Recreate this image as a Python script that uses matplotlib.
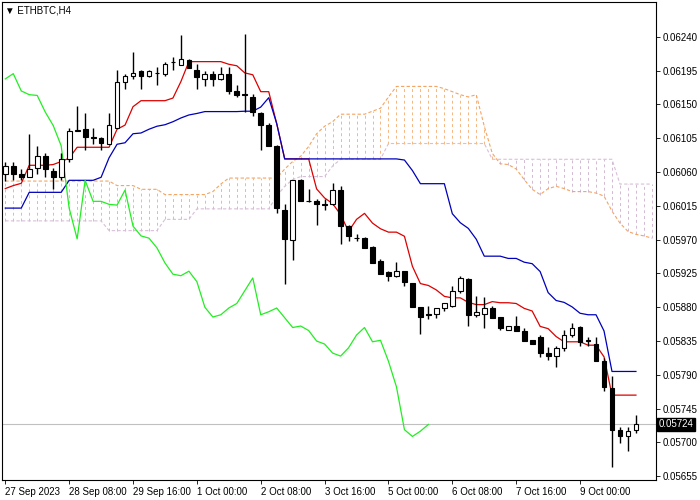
import numpy as np
import pandas as pd
from matplotlib import pyplot as plt

plt.rcParams['font.family'] = ['Liberation Sans', 'DejaVu Sans']

# ETHBTC H4 candles (open, high, low, close)
opens = [.06058, .06068, .06058, .06054, .06065, .06081, .06062, .06053, .06077, .06115,
         .06117, .06107, .06105, .06098, .06119, .06180, .06188, .06194, .06188, .06192,
         .06191, .06207, .06203, .06209, .06196, .06184, .06191, .06184, .06191, .06168,
         .06164, .06160, .06138, .06123, .06095, .06010, .05970, .06049, .06021, .06021,
         .06017, .06017, .06036, .05988, .05972, .05972, .05960, .05942, .05927, .05922,
         .05928, .05912, .05880, .05870, .05871, .05879, .05882, .05902, .05918, .05870,
         .05871, .05879, .05867, .05850, .05855, .05849, .05837, .05841, .05819, .05815,
         .05826, .05843, .05854, .05835, .05831, .05808, .05773, .05716, .05708, .05717]
highs = [.06074, .06074, .06064, .06111, .06095, .06085, .06065, .06085, .06119, .06148,
         .06138, .06119, .06107, .06139, .06196, .06191, .06220, .06196, .06196, .06200,
         .06207, .06213, .06243, .06211, .06204, .06194, .06194, .06200, .06200, .06176,
         .06244, .06164, .06140, .06125, .06096, .06017, .06049, .06051, .06037, .06024,
         .06024, .06045, .06041, .05989, .05978, .05973, .05961, .05944, .05928, .05940,
         .05928, .05912, .05880, .05882, .05879, .05886, .05908, .05922, .05919, .05895,
         .05893, .05882, .05867, .05855, .05868, .05853, .05837, .05843, .05827, .05828,
         .05850, .05859, .05855, .05841, .05841, .05812, .05789, .05721, .05721, .05736]
lows = [.06048, .06049, .06049, .06053, .06058, .06054, .06038, .06049, .06074, .06114,
        .06090, .06098, .06090, .06097, .06118, .06171, .06184, .06171, .06186, .06176,
        .06188, .06196, .06202, .06198, .06171, .06174, .06174, .06183, .06164, .06160,
        .06140, .06135, .06090, .06095, .06005, .05911, .05943, .06021, .06020, .05990,
        .06010, .06016, .05964, .05968, .05968, .05959, .05939, .05924, .05915, .05920,
        .05908, .05880, .05845, .05865, .05866, .05875, .05880, .05899, .05855, .05867,
        .05853, .05866, .05850, .05850, .05848, .05835, .05831, .05814, .05810, .05800,
        .05822, .05841, .05829, .05829, .05808, .05769, .05667, .05699, .05688, .05713]
closes = [.06068, .06058, .06053, .06064, .06082, .06064, .06053, .06078, .06114, .06116,
          .06107, .06105, .06099, .06122, .06180, .06188, .06192, .06188, .06194, .06192,
          .06204, .06206, .06211, .06198, .06186, .06191, .06184, .06191, .06168, .06163,
          .06162, .06140, .06122, .06095, .06012, .05971, .06049, .06021, .06021, .06017,
          .06016, .06036, .05988, .05975, .05972, .05959, .05939, .05924, .05922, .05928,
          .05914, .05880, .05867, .05870, .05879, .05885, .05902, .05919, .05870, .05874,
          .05879, .05866, .05853, .05855, .05849, .05835, .05831, .05819, .05815, .05826,
          .05843, .05853, .05834, .05836, .05808, .05774, .05717, .05708, .05715, .05724]

# tenkan / kijun values before enough history is on screen
tenkan_early = [.06038, .06042, .06045, .06069, .06069, .06069, .06070, .06074]
kijun_early = [.06012, .06012, .06012, .06033, .06033, .06033, .06033, .06033,
               .06049, .06049, .06049, .06049, .06053, .06079, .06097, .06099,
               .06111, .06112, .06117, .06121, .06123, .06127, .06132, .06136, .06138]

# senkou spans for bars 0..81
span_a = [.06048] * 14 + [.06042] * 3 + [.06037] * 3 + [.06030] * 6 + \
         [.06034, .06044] + [.06052] * 7 + \
         [.06064, .06074, .06081, .06094, .06111, .06121, .06127] + [.06137] * 4 + \
         [.06141, .06145, .06160] + [.06174] * 6 + \
         [.06171, .06167, .06163, .06160, .06163, .06121, .06085, .06071, .06070, .06064,
          .06050, .06037, .06030, .06038, .06041, .06038, .06034, .06034, .06034, .06032,
          .06028, .06008, .05992, .05981, .05977, .05975, .05972]
span_b = [.05995] * 13 + [.05982] * 7 + [.05997] * 4 + [.06011] * 10 + \
         [.06028, .06041, .06050] + [.06054] * 4 + [.06068] + [.06077] * 6 + \
         [.06098] * 13 + [.06077] * 16 + [.06044] * 5

xlabels = ['27 Sep 2023', '28 Sep 08:00', '29 Sep 16:00', '1 Oct 00:00', '2 Oct 08:00',
           '3 Oct 16:00', '5 Oct 00:00', '6 Oct 08:00', '7 Oct 16:00', '9 Oct 00:00']
yticks = [0.06240, 0.06195, 0.06150, 0.06105, 0.06060, 0.06015, 0.05970, 0.05925,
          0.05880, 0.05835, 0.05790, 0.05745, 0.05700, 0.05655]

df = pd.DataFrame({'o': opens, 'h': highs, 'l': lows, 'c': closes})
n = len(df)
idx = np.arange(n)
tenkan = ((df.h.rolling(9).max() + df.l.rolling(9).min()) / 2).values
tenkan[:len(tenkan_early)] = tenkan_early
kijun = ((df.h.rolling(26).max() + df.l.rolling(26).min()) / 2).values
kijun[:len(kijun_early)] = kijun_early
span_a = np.array(span_a)
span_b = np.array(span_b)
cidx = np.arange(len(span_a))

fig = plt.figure(figsize=(7, 5), dpi=100)
ax = fig.add_axes([0.003, 0.04, 0.934, 0.956])

# cloud: vertical dashed hatch between the spans
for i in cidx:
    col = '#f4a460' if span_a[i] >= span_b[i] else '#c8a8c8'
    ax.vlines(i, min(span_a[i], span_b[i]), max(span_a[i], span_b[i]),
              colors=col, linestyles=(0, (3, 3)), linewidth=0.7, alpha=0.8)
ax.plot(cidx, span_a, color='#f4a460', ls=(0, (3, 2)), lw=0.8)
ax.plot(cidx, span_b, color='#d8bfd8', ls=(0, (3, 2)), lw=0.8)

ax.plot(idx, tenkan, color='#dd0000', lw=0.9)
ax.plot(idx, kijun, color='#0000bb', lw=0.9)
ax.plot(idx[:n - 26], df.c.values[26:], color='#22ee22', lw=0.9)

# candles
ax.vlines(idx, df.l, df.h, colors='black', lw=1)
body_lo = np.minimum(df.o, df.c)
body_h = np.maximum(np.abs(df.c - df.o), 0.000004)
faces = ['white' if c > o else 'black' for o, c in zip(opens, closes)]
ax.bar(idx, body_h, bottom=body_lo, width=0.6, color=faces, edgecolor='black',
       linewidth=0.8, zorder=3)

last = closes[-1]
ax.axhline(last, color='#c0c0c0', lw=0.8, zorder=1)

ax.set_xlim(-0.4, 81.5)
ax.set_ylim(0.05650, 0.062864)
ax.yaxis.tick_right()
ax.set_yticks(yticks)
ax.set_yticklabels(['%.5f' % v for v in yticks])
ax.set_xticks(np.arange(0, 80, 8))
ax.set_xticklabels(xlabels, ha='left')
ax.tick_params(axis='both', labelsize=7, length=3, width=0.6, pad=2)
for s in ax.spines.values():
    s.set_linewidth(0.8)

ax.text(1.004, last, '%.5f' % last, transform=ax.get_yaxis_transform(), fontsize=7,
        color='white', va='center', ha='left',
        bbox=dict(boxstyle='square,pad=0.15', fc='black', ec='black'))
ax.text(0.004, 0.993, '\u25bc ETHBTC,H4', transform=ax.transAxes, fontsize=7,
        va='top', ha='left')

fig.savefig('out.png', dpi=100)
